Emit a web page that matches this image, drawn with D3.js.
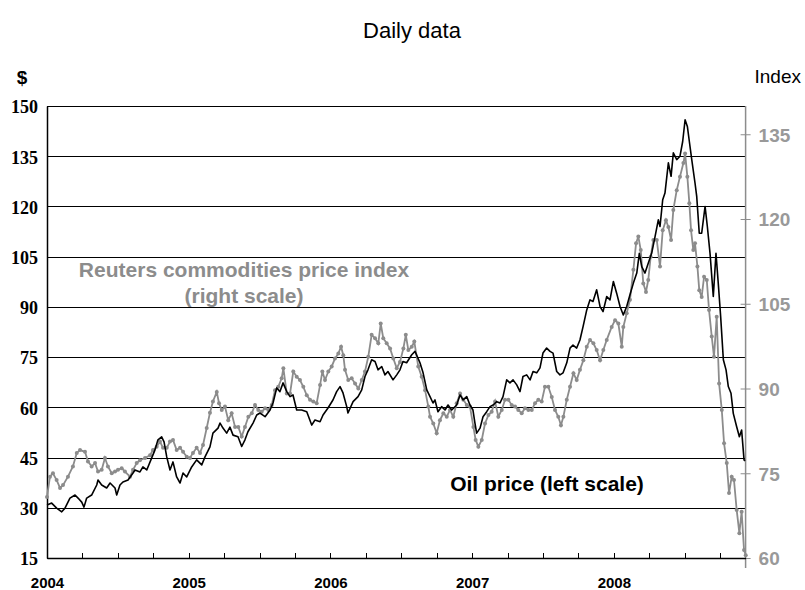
<!DOCTYPE html>
<html>
<head>
<meta charset="utf-8">
<script src="https://cdn.jsdelivr.net/npm/d3@7"></script>
<style>
  body { margin: 0; background: #fff; }
  svg { display: block; }
</style>
</head>
<body>
<svg id="chart" width="805" height="590"></svg>
<script>
// oil price ($, left scale) - decimal year / value
var oilYear = [2004.000,2004.033,2004.068,2004.104,2004.127,2004.162,2004.198,2004.219,2004.245,2004.261,
  2004.280,2004.315,2004.351,2004.360,2004.386,2004.421,2004.445,2004.480,2004.492,2004.515,
  2004.536,2004.572,2004.607,2004.621,2004.656,2004.677,2004.704,2004.739,2004.762,2004.783,
  2004.809,2004.826,2004.845,2004.868,2004.889,2004.915,2004.939,2004.960,2004.986,2005.021,
  2005.056,2005.092,2005.115,2005.150,2005.171,2005.207,
  2005.221,2005.242,2005.268,2005.291,2005.313,2005.348,2005.374,2005.397,2005.418,2005.454,
  2005.480,2005.503,2005.539,2005.574,2005.595,2005.621,2005.644,2005.666,2005.692,2005.715,
  2005.736,2005.762,2005.797,2005.833,2005.868,2005.891,2005.927,2005.948,2005.983,2006.018,
  2006.044,2006.068,2006.089,2006.115,2006.124,2006.160,2006.195,2006.221,2006.244,2006.265,
  2006.291,2006.315,2006.336,2006.362,2006.385,2006.406,2006.442,2006.468,2006.491,2006.512,
  2006.538,2006.574,2006.597,
  2006.632,2006.654,2006.680,2006.703,2006.724,2006.738,2006.759,2006.785,2006.809,2006.830,
  2006.856,2006.891,2006.915,2006.936,2006.962,2006.985,2007.006,2007.020,2007.032,2007.056,
  2007.077,2007.103,2007.126,2007.148,2007.174,2007.197,2007.218,2007.244,2007.267,2007.289,
  2007.315,2007.338,2007.359,2007.385,2007.409,2007.430,2007.456,2007.479,2007.500,2007.526,
  2007.550,2007.571,2007.597,2007.620,2007.642,2007.668,2007.691,2007.712,2007.738,2007.761,
  2007.783,2007.809,2007.832,2007.853,2007.879,2007.903,2007.924,2007.950,2007.973,2007.997,
  2008.020,2008.044,2008.067,2008.091,2008.114,2008.138,2008.162,2008.180,2008.197,2008.220,
  2008.243,2008.267,2008.291,2008.314,2008.326,2008.345,2008.361,2008.385,2008.404,2008.420,
  2008.444,2008.467,2008.486,2008.503,2008.519,2008.533,2008.550,2008.573,2008.585,2008.603,
  2008.620,2008.644,2008.660,2008.679,2008.702,2008.721,2008.737,2008.754,2008.773,2008.792,
  2008.808,2008.827,2008.843,2008.867,2008.886,2008.902,2008.919,2008.926];
var oilPrice = [30.8,31.4,29.9,28.8,29.9,32.9,33.8,32.9,31.7,30.2,
  32.9,33.8,36.8,38.3,36.8,35.9,37.4,35.9,33.8,36.8,
  37.7,38.3,40.4,41.3,40.7,42.2,41.3,44.9,47.3,50.3,
  51.2,49.7,45.2,41.3,43.7,39.2,37.4,40.4,39.2,42.2,
  44.3,42.8,45.2,48.2,52.3,53.8,
  55.3,53.8,52.3,54.1,51.7,51.2,48.3,50.3,52.7,55.3,
  57.7,58.3,57.2,59.2,61.3,65.8,64.7,67.3,64.7,63.2,
  63.7,59.2,59.2,58.7,54.7,56.2,55.7,57.7,59.8,62.2,
  64.7,66.2,64.3,60.2,58.3,61.7,63.2,65.2,69.2,71.2,
  74.2,73.7,71.2,72.2,69.7,70.7,68.2,69.7,71.2,73.7,
  73.3,75.7,76.7,
  73.3,70.3,65.2,63.2,61.3,62.2,58.7,60.2,59.2,60.7,
  59.2,60.7,63.7,62.2,63.2,60.7,59.2,55.3,52.3,53.8,
  57.2,58.7,60.2,60.7,61.7,61.3,63.2,68.2,67.3,68.2,
  66.7,64.7,69.2,69.7,68.2,70.7,70.3,71.8,76.2,77.7,
  76.7,76.2,70.7,69.7,70.3,73.3,77.7,78.6,77.7,80.1,
  84.1,89.1,92.1,91.6,95.1,90.1,88.6,93.1,92.1,97.6,
  94.1,90.1,87.6,90.1,93.6,97.1,100.1,106,102,100.1,
  103,106,111,116,114,122,124,133,129,136,
  134,135,139.4,145.9,143.9,139.4,134,127,123,112,
  112,120,114,106,93.1,106,97.1,87.1,74.2,71.2,
  66.2,64.2,58.2,54.2,51.2,53.2,44.3,44];

// Reuters commodities price index (right scale)
var indexYear = [2004.000,2004.021,2004.042,2004.068,2004.092,2004.113,2004.148,2004.183,2004.210,2004.233,
  2004.268,2004.289,2004.315,2004.339,2004.360,2004.386,2004.409,2004.430,2004.457,2004.480,
  2004.501,2004.527,2004.550,2004.586,2004.607,2004.633,2004.656,2004.692,2004.727,2004.748,
  2004.774,2004.797,2004.819,2004.845,2004.868,2004.889,2004.915,2004.939,2004.960,2004.986,
  2005.009,2005.030,2005.056,2005.080,2005.101,2005.127,2005.150,2005.171,2005.198,2005.214,
  2005.233,2005.256,
  2005.279,2005.303,2005.327,2005.350,2005.374,2005.397,2005.421,2005.445,2005.468,2005.491,
  2005.515,2005.539,2005.562,2005.586,2005.609,2005.632,2005.656,2005.668,2005.692,2005.715,
  2005.738,2005.762,2005.785,2005.809,2005.833,2005.856,2005.879,2005.903,2005.927,2005.943,
  2005.962,2005.985,2006.009,2006.032,2006.056,2006.075,2006.091,2006.103,2006.126,2006.150,
  2006.174,2006.197,2006.221,2006.244,2006.267,2006.291,2006.315,2006.338,2006.355,2006.373,
  2006.397,2006.421,2006.444,2006.468,2006.491,2006.515,2006.532,2006.550,2006.574,2006.592,
  2006.620,2006.644,2006.668,2006.691,2006.703,2006.726,2006.750,2006.773,2006.797,2006.821,
  2006.844,2006.867,2006.891,2006.915,2006.938,2006.962,2006.985,2007.009,2007.025,2007.044,
  2007.068,2007.091,2007.115,2007.138,2007.162,2007.185,2007.209,2007.232,2007.256,2007.279,
  2007.303,2007.326,2007.350,2007.373,2007.397,2007.421,2007.444,2007.467,2007.491,2007.514,
  2007.538,2007.562,2007.585,2007.608,2007.627,2007.644,2007.668,2007.691,2007.715,2007.738,
  2007.761,2007.785,2007.809,2007.832,2007.856,2007.879,2007.903,
  2007.926,2007.950,2007.985,2008.009,2008.032,2008.056,2008.067,2008.091,2008.114,2008.138,
  2008.157,2008.173,2008.190,2008.208,2008.227,2008.243,2008.260,2008.279,2008.303,2008.326,
  2008.345,2008.368,2008.385,2008.404,2008.420,2008.444,2008.467,2008.491,2008.503,2008.519,
  2008.533,2008.545,2008.561,2008.573,2008.590,2008.603,2008.620,2008.637,2008.656,2008.672,
  2008.691,2008.707,2008.726,2008.743,2008.762,2008.778,2008.797,2008.813,2008.832,2008.848,
  2008.867,2008.886,2008.902,2008.919,2008.931];
var indexValue = [70.8,74.4,75,73.8,72.4,72.9,74.4,76.2,78.6,79.1,
  78.8,77.1,76.2,76.8,75.3,75.6,77.7,76.2,75,75.3,
  75.6,75.9,75.3,74.4,75.6,76.8,77.3,77.7,78.2,79.1,
  79.7,80.6,79.5,79.5,80.6,80.9,79.1,79.5,78.8,77.9,
  77.7,78.6,79.5,78.6,80,83,85.7,87.7,89.4,87.4,
  86.2,86.8,
  84.4,85.6,83.2,83.2,81.5,83.2,85,85.6,87.1,86.2,
  85.9,86.5,86.2,87.1,89.7,90.3,91.8,93.6,89.1,89.1,
  93,92.1,91.5,90.3,88.8,88,87.7,87.4,90.6,93,
  91.5,93,93.9,95.3,96.2,97.4,95.9,93.3,91.5,91.8,
  90.9,90,91.5,93,95.6,99.5,98.9,98,101.5,98.9,
  98,97.1,95.3,93.6,94.7,97.1,99.5,96.8,97.4,98.3,
  93.9,92.1,89.7,86.8,85,83.8,82.1,84.4,85.6,85,
  86.2,85,87.4,89.1,88,87.1,86.8,83.2,80.9,79.7,
  80.9,83.8,85.3,85.9,87.7,85,86.2,88,88,87.1,
  86.8,86.2,85.6,86.5,86.2,86.2,87.4,88,87.7,90.3,
  90.3,88.5,86.2,85,83.5,85,88,90.3,92.7,91.5,
  93.3,95,97.4,98.6,98,96.8,95,
  96.8,98.6,100.9,102.1,101.5,97.4,100.9,103.3,105.7,111,
  115.7,116.9,114.5,108.6,107.1,109.2,113.3,116.3,116.3,111.6,
  118,119.8,118.6,116.3,121.6,125.1,127.5,129.9,131.6,127.5,
  122.8,118,114.5,115.7,111.6,107.4,106.2,109.8,109.2,103.9,
  99.2,95.6,102.7,90.9,86.2,80.3,76.8,71.5,74.4,73.8,
  68.5,64.4,68.2,61.4,60.5];

var leftTicks = [15, 30, 45, 60, 75, 90, 105, 120, 135, 150];
var rightTicks = [60, 75, 90, 105, 120, 135];
var yearTicks = [2004, 2005, 2006, 2007, 2008];

(function(){
    var svg = d3.select('#chart');
    var sans = '"Liberation Sans", Arial, sans-serif';
    var serif = '"Liberation Serif", "Times New Roman", serif';
    var grey = '#8c8c8c';

    var left = 47, right = 745.6, top = 106, bottom = 558;

    var x = d3.scaleLinear().domain([2004, 2008.93]).range([left, right]);
    var yL = d3.scaleLinear().domain([15, 150]).range([bottom, top]);
    var yR = d3.scaleLinear().domain([60, 140]).range([bottom, top]);

    // horizontal grid on the $ scale
    svg.append('g').selectAll('line')
        .data(leftTicks)
        .enter().append('line')
        .attr('x1', left).attr('x2', right)
        .attr('y1', function(d){ return Math.round(yL(d)) + 0.5; })
        .attr('y2', function(d){ return Math.round(yL(d)) + 0.5; })
        .attr('stroke', '#000')
        .attr('stroke-width', 1);

    // quarter ticks on the time axis, pointing up
    var quarters = d3.range(2004.25, 2008.9, 0.25);
    svg.append('g').selectAll('line')
        .data(quarters)
        .enter().append('line')
        .attr('x1', function(d){ return Math.round(x(d)) + 0.5; })
        .attr('x2', function(d){ return Math.round(x(d)) + 0.5; })
        .attr('y1', bottom).attr('y2', bottom - 5)
        .attr('stroke', '#000');

    // left axis
    var axL = svg.append('g')
        .attr('transform', 'translate(' + left + ',0)')
        .call(d3.axisLeft(yL).tickValues(leftTicks).tickSize(0).tickPadding(9));
    axL.select('.domain').attr('stroke', '#000').attr('stroke-width', 1.5);
    axL.selectAll('text')
        .attr('font-family', serif)
        .attr('font-weight', 'bold')
        .attr('font-size', 18)
        .attr('fill', '#000')
        .attr('dy', '0.38em');

    // right axis (grey, crossing ticks)
    var axR = svg.append('g')
        .attr('transform', 'translate(' + right + ',0)')
        .call(d3.axisRight(yR).tickValues(rightTicks).tickSize(5).tickPadding(8));
    axR.select('.domain').remove();
    axR.append('line')
        .attr('x1', 0).attr('x2', 0)
        .attr('y1', top).attr('y2', bottom + 10)
        .attr('stroke', grey).attr('stroke-width', 1.5);
    axR.selectAll('.tick line').attr('x1', -5).attr('stroke', grey);
    axR.selectAll('text')
        .attr('font-family', sans)
        .attr('font-weight', 'bold')
        .attr('font-size', 19)
        .attr('fill', '#999')
        .attr('dy', '0.36em');

    // bottom axis labels
    var axB = svg.append('g')
        .attr('transform', 'translate(0,' + bottom + ')')
        .call(d3.axisBottom(x).tickValues(yearTicks).tickSize(0).tickPadding(19)
              .tickFormat(d3.format('d')));
    axB.select('.domain').attr('stroke', '#000').attr('stroke-width', 1.5);
    axB.selectAll('text')
        .attr('font-family', sans)
        .attr('font-weight', 'bold')
        .attr('font-size', 15)
        .attr('fill', '#000');

    // index series with markers
    var indexData = indexYear.map(function(d, i){ return [d, indexValue[i]]; });
    var lineR = d3.line()
        .x(function(d){ return x(d[0]); })
        .y(function(d){ return yR(d[1]); });
    svg.append('path')
        .datum(indexData)
        .attr('d', lineR)
        .attr('fill', 'none')
        .attr('stroke', grey)
        .attr('stroke-width', 1.8);
    svg.append('g').selectAll('circle')
        .data(indexData)
        .enter().append('circle')
        .attr('cx', function(d){ return x(d[0]); })
        .attr('cy', function(d){ return yR(d[1]); })
        .attr('r', 2)
        .attr('fill', grey);

    // oil price line
    var oilData = oilYear.map(function(d, i){ return [d, oilPrice[i]]; });
    var lineL = d3.line()
        .x(function(d){ return x(d[0]); })
        .y(function(d){ return yL(d[1]); });
    svg.append('path')
        .datum(oilData)
        .attr('d', lineL)
        .attr('fill', 'none')
        .attr('stroke', '#000')
        .attr('stroke-width', 1.6)
        .attr('stroke-linejoin', 'round');

    // titles and labels
    svg.append('text')
        .attr('x', 412).attr('y', 38)
        .attr('text-anchor', 'middle')
        .attr('font-family', sans).attr('font-size', 22)
        .text('Daily data');
    svg.append('text')
        .attr('x', 22).attr('y', 84)
        .attr('text-anchor', 'middle')
        .attr('font-family', sans).attr('font-weight', 'bold').attr('font-size', 19)
        .text('$');
    svg.append('text')
        .attr('x', 801).attr('y', 83)
        .attr('text-anchor', 'end')
        .attr('font-family', sans).attr('font-size', 19)
        .text('Index');

    svg.append('text')
        .attr('x', 244).attr('y', 277)
        .attr('text-anchor', 'middle')
        .attr('font-family', sans).attr('font-weight', 'bold').attr('font-size', 21)
        .attr('fill', grey)
        .text('Reuters commodities price index');
    svg.append('text')
        .attr('x', 244).attr('y', 303)
        .attr('text-anchor', 'middle')
        .attr('font-family', sans).attr('font-weight', 'bold').attr('font-size', 21)
        .attr('fill', grey)
        .text('(right scale)');
    svg.append('text')
        .attr('x', 547).attr('y', 491)
        .attr('text-anchor', 'middle')
        .attr('font-family', sans).attr('font-weight', 'bold').attr('font-size', 21)
        .attr('fill', '#000')
        .text('Oil price (left scale)');
})();
</script>
</body>
</html>
